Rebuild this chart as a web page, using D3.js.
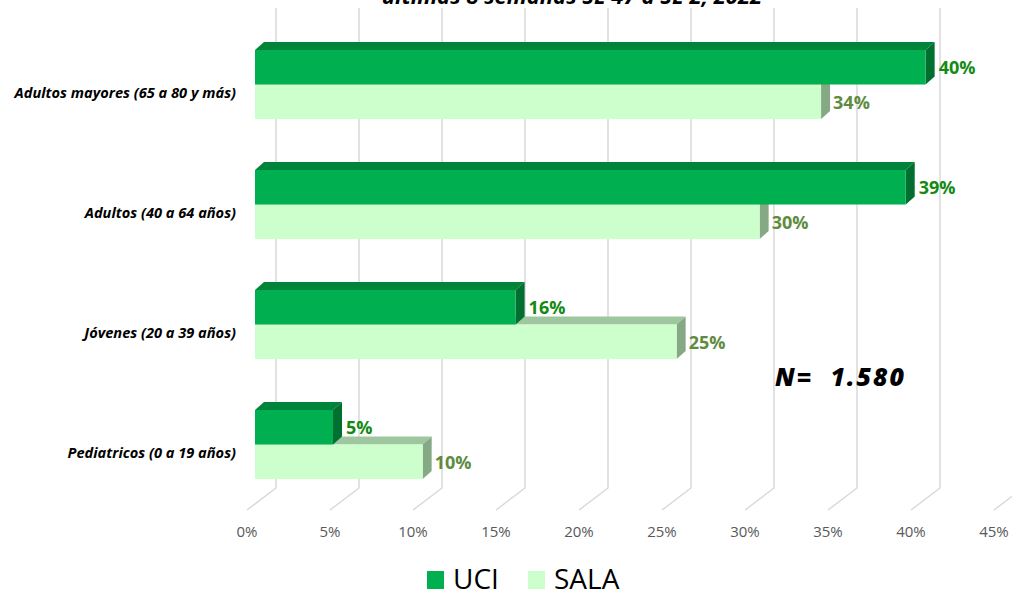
<!DOCTYPE html>
<html>
<head>
<meta charset="utf-8">
<script src="https://cdn.jsdelivr.net/npm/d3@7"></script>
<style>
  body { margin: 0; background: #fff; }
  text { font-family: "Open Sans", "DejaVu Sans", sans-serif; }
</style>
</head>
<body>
<div id="chart-container"></div>
<script>
// horizontal 3d-ish clustered bars, UCI vs SALA by age group
const svgWidth = 1012;
const svgHeight = 594;
const margin = { top: 0, left: 255 };

const categories = ["Adultos mayores (65 a 80 y más)", "Adultos (40 a 64 años)", "Jóvenes (20 a 39 años)", "Pediatricos (0 a 19 años)"];
const series = ["UCI", "SALA"];
const uciValues = [0.404, 0.392, 0.157, 0.047];
const salaValues = [0.341, 0.304, 0.254, 0.101];
const tickValues = [0, 0.05, 0.10, 0.15, 0.20, 0.25, 0.30, 0.35, 0.40, 0.45];
const titleText = "últimas 8 semanas  SE 47 a SE 2, 2022";
const noteText = "N= 1.580";

const colors = {
    UCI: { front: "#00b050", top: "#00843a", side: "#006f2f", label: "#138a13" },
    SALA: { front: "#ccffcc", top: "#9fc79f", side: "#85a885", label: "#5e8c3e" }
};

// bar depth and chart depth offsets
const bd = { x: 9, y: -8 };
const backShift = 21;   // back wall relative to bar front
const frontShift = -8;  // floor front edge relative to bar front
const gridTop = 8, gridBottom = 488, floorFront = 510;

const svg = d3.select("#chart-container")
    .append("svg")
    .attr("width", svgWidth)
    .attr("height", svgHeight);

const g = svg.append("g")
    .attr("transform", `translate(${margin.left},${margin.top})`);

const x = d3.scaleLinear()
    .domain([0, 0.45])
    .range([0, 747]);

const y = d3.scaleBand()
    .domain(categories)
    .range([-1, 530])
    .padding(0.425);

const half = y.bandwidth() / 2;

// title (cut off at top in the original)
svg.append("text")
    .attr("x", 572)
    .attr("y", 4)
    .attr("text-anchor", "middle")
    .style("font-size", "22px")
    .style("font-weight", "bold")
    .style("font-style", "italic")
    .attr("fill", "#000")
    .text(titleText);

// gridlines on the back wall + floor diagonals
const grid = g.append("g").attr("class", "grid");
grid.selectAll(".gl")
    .data(tickValues)
    .enter()
    .append("path")
    .attr("d", d => `M${x(d) + backShift},${gridTop}L${x(d) + backShift},${gridBottom}L${x(d) + frontShift},${floorFront}`)
    .attr("fill", "none")
    .attr("stroke", "#d9d9d9")
    .attr("stroke-width", 1.5);

// tick labels
g.selectAll(".tick-label")
    .data(tickValues)
    .enter()
    .append("text")
    .attr("class", "tick-label")
    .attr("x", d => x(d) + frontShift)
    .attr("y", 537)
    .attr("text-anchor", "middle")
    .style("font-size", "15px")
    .attr("fill", "#595959")
    .text(d => d3.format(".0%")(d));

// category labels
g.selectAll(".cat-label")
    .data(categories)
    .enter()
    .append("text")
    .attr("x", -19)
    .attr("y", d => y(d) + half + 13)
    .attr("text-anchor", "end")
    .style("font-size", "14.6px")
    .style("font-weight", "bold")
    .style("font-style", "italic")
    .attr("fill", "#000")
    .text(d => d);

function drawBar(sel, name, yTop, v) {
    const c = colors[name];
    const w = x(v);
    const h = half;
    // top face
    sel.append("path")
        .attr("d", `M0,${yTop}L${bd.x},${yTop + bd.y}L${w + bd.x},${yTop + bd.y}L${w},${yTop}Z`)
        .attr("fill", c.top);
    // side face
    sel.append("path")
        .attr("d", `M${w},${yTop}L${w + bd.x},${yTop + bd.y}L${w + bd.x},${yTop + h + bd.y}L${w},${yTop + h}Z`)
        .attr("fill", c.side);
    // front face
    sel.append("rect")
        .attr("x", 0)
        .attr("y", yTop)
        .attr("width", w)
        .attr("height", h)
        .attr("fill", c.front);
}

const bars = g.selectAll(".cat")
    .data(categories)
    .enter()
    .append("g")
    .attr("class", "cat");

// SALA first (lower bar), then UCI on top
bars.each(function (d, i) {
    const sel = d3.select(this);
    drawBar(sel, "SALA", y(d) + half, salaValues[i]);
    drawBar(sel, "UCI", y(d), uciValues[i]);
});

// value labels
bars.append("text")
    .attr("x", (d, i) => x(uciValues[i]) + bd.x + 4)
    .attr("y", d => y(d) + half / 2 + 7)
    .style("font-size", "18px")
    .style("font-weight", "bold")
    .attr("fill", colors.UCI.label)
    .text((d, i) => d3.format(".0%")(uciValues[i]));

bars.append("text")
    .attr("x", (d, i) => x(salaValues[i]) + bd.x + 3)
    .attr("y", d => y(d) + half + half / 2 + 7)
    .style("font-size", "18px")
    .style("font-weight", "bold")
    .attr("fill", colors.SALA.label)
    .text((d, i) => d3.format(".0%")(salaValues[i]));

// N note
svg.append("text")
    .attr("x", 775)
    .attr("y", 386)
    .attr("xml:space", "preserve")
    .style("white-space", "pre")
    .style("font-size", "25px")
    .style("font-weight", "900")
    .style("font-style", "italic")
    .style("letter-spacing", "2px")
    .attr("fill", "#000")
    .text(noteText.replace(" ", "  "));

// legend
const legend = svg.append("g").attr("class", "legend");
const legendX = [427, 528];
series.forEach((s, i) => {
    legend.append("rect")
        .attr("x", legendX[i])
        .attr("y", 571)
        .attr("width", 17)
        .attr("height", 18)
        .attr("fill", colors[s].front);
    legend.append("text")
        .attr("x", legendX[i] + 26)
        .attr("y", 589)
        .style("font-size", "28px")
        .attr("fill", "#000")
        .text(s);
});
</script>
</body>
</html>
